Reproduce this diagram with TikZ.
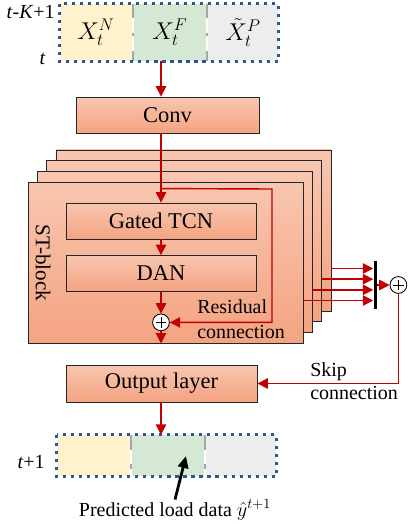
\documentclass[tikz,border=0pt]{standalone}
\usepackage{fontspec}
\setmainfont{Liberation Serif}
\usetikzlibrary{arrows.meta,calc,positioning}
\definecolor{ink}{HTML}{000000}
\definecolor{wire}{HTML}{C00000}
\definecolor{dotline}{HTML}{2F5597}
\definecolor{salmontop}{HTML}{F8C6B0}
\definecolor{salmonbot}{HTML}{F4A381}
\definecolor{yellowfill}{HTML}{FFF2CC}
\definecolor{greenfill}{HTML}{D5E8D4}
\definecolor{grayfill}{HTML}{EDEDED}
\definecolor{divline}{HTML}{A6A6A6}
\newcommand{\boxfont}{\fontsize{16}{19}\selectfont}
\newcommand{\notefont}{\fontsize{14.2}{17.7}\selectfont}
\newcommand{\cellfont}{\fontsize{18}{21}\selectfont}
\tikzset{
 every node/.append style={font=\boxfont,text=ink},
 layer/.style={draw=ink!85,line width=.6pt,top color=salmontop,bottom color=salmonbot,minimum width=6.875cm,minimum height=4.025cm,inner sep=0pt},
 unit/.style={draw=ink!85,line width=.6pt,top color=salmontop,bottom color=salmonbot,inner sep=0pt},
 cell/.style={inner sep=0pt,font=\cellfont},
 frame/.style={draw=dotline,line width=2.2pt,dash pattern=on 2.2pt off 3.5pt},
 divider/.style={draw=divline,line width=2.1pt,dash pattern=#1},
 summ/.style={circle,draw=ink,line width=.6pt,fill=white,minimum size=.42cm,inner sep=0pt,
  path picture={\draw[line width=.5pt] ([xshift=-.13cm]path picture bounding box.center) -- ([xshift=.13cm]path picture bounding box.center)
   ([yshift=-.13cm]path picture bounding box.center) -- ([yshift=.13cm]path picture bounding box.center);}},
 flow/.style={-{Triangle[length=2.6mm,width=2.6mm]},draw=wire,line width=1pt},
 note/.style={font=\notefont,align=left,inner sep=0pt},
 pointer/.style={-{Triangle[length=3mm,width=2.6mm]},draw=ink,line width=2pt},
}

\begin{document}
\begin{tikzpicture}

\useasboundingbox (0,0) rectangle (10.175,-13.1);
% input window
\node[cell,fill=yellowfill,minimum width=1.8cm,minimum height=1.425cm] (inN) at (2.4,-0.8125) {$X_t^N$};
\node[cell,fill=greenfill,minimum width=1.8cm,minimum height=1.425cm] (inF) at (4.25,-0.8125) {$X_t^F$};
\node[cell,fill=grayfill,minimum width=1.75cm,minimum height=1.425cm] (inP) at (6.075,-0.8125) {$\tilde{X}_t^P$};
\draw[divider={on 9.9pt off 10.6pt on 2.8pt off 10.6pt}] ($(inN.north east)!.5!(inF.north west)$) -- ($(inN.south east)!.5!(inF.south west)$);
\draw[divider={on 9.9pt off 10.6pt on 2.8pt off 10.6pt}] ($(inF.north east)!.5!(inP.north west)$) -- ($(inF.south east)!.5!(inP.south west)$);
\draw[frame] (inN.north west) rectangle (inP.south east);
\node[note,anchor=east] (tfirst) at (1.375,-0.3) {\textit{t}-\textit{K}+1};
\node[note] (tlast) at (1.0625,-1.475) {\textit{t}};

\node[unit,minimum width=4.575cm,minimum height=.9cm] (conv) at (4.1875,-2.875) {Conv};

% stacked ST-blocks
\foreach \i in {3,2,1,0}
 \node[layer] (st\i) at ({4.1375+0.2333*\i},{-6.5625+0.2667*\i}) {};
\node[rotate=-90,font=\fontsize{15}{18}\selectfont] (stlabel) at (1.075,-6.575) {ST-block};
\node[unit,minimum width=4.75cm,minimum height=.9cm] (tcn) at (4.025,-5.525) {Gated TCN};
\node[unit,minimum width=4.75cm,minimum height=.9cm] (dan) at (4.025,-6.8375) {DAN};
\node[summ] (add) at (4.025,-8.06) {};
\node[note,anchor=west] (restext) at (4.925,-7.97) {Residual\\connection};

\draw[flow] (inF.south -| tcn) -- (conv.north -| tcn);
\draw[flow] (conv.south -| tcn) -- (tcn.north);
\draw[flow] (tcn) -- (dan);
\draw[flow] (dan) -- (add);
\draw[flow] (add) -- (add |- st0.south);
\coordinate (split) at ($(tcn.north)+(0,.35)$);
\coordinate (resturn) at (6.8,-4.725);
\draw[flow] (split) -- (resturn) |- (add.east);

% skip connections
\node[fill=ink,inner sep=0pt,minimum width=.075cm,minimum height=1.2cm] (bar) at (9.375,-7.125) {};
\node[summ] (sadd) at (9.96,-7.125) {};
\foreach \i in {0,...,3}
 \draw[flow] ([yshift=-.95cm]st\i.east) -- ([yshift=-.95cm]st\i.east -| bar.west);
\draw[flow] (bar) -- (sadd);

\node[unit,minimum width=4.775cm,minimum height=.925cm] (out) at (4.0375,-9.5875) {Output layer};
\draw[flow] (sadd) |- (out);
\node[note,anchor=west,font=\fontsize{14.2}{16.3}\selectfont] (skiptext) at (7.75,-9.52) {Skip\\connection};

% output window
\node[cell,fill=yellowfill,minimum width=1.825cm,minimum height=1.025cm] (outN) at (2.3375,-11.3875) {};
\node[cell,fill=greenfill,minimum width=1.8cm,minimum height=1.025cm] (outF) at (4.2,-11.3875) {};
\node[cell,fill=grayfill,minimum width=1.75cm,minimum height=1.025cm] (outP) at (6.025,-11.3875) {};
\draw[divider={on 11pt off 10pt on 3.5pt off 10pt}] ($(outN.north east)!.5!(outF.north west)$) -- ($(outN.south east)!.5!(outF.south west)$);
\draw[divider={on 11pt off 10pt on 3.5pt off 10pt}] ($(outF.north east)!.5!(outP.north west)$) -- ($(outF.south east)!.5!(outP.south west)$);
\draw[frame] (outN.north west) rectangle (outP.south east);
\node[note,anchor=east] (tnext) at (1.125,-11.54) {\textit{t}+1};
\draw[flow] (out.south -| tcn) -- (outF.north -| tcn);

\node[note] (pred) at (4.375,-12.75) {Predicted load data $\hat{y}^{t+1}$};
\coordinate (predtip) at (4.65,-11.4);
\draw[pointer] (pred.north) -- (predtip);

\end{tikzpicture}
\end{document}
